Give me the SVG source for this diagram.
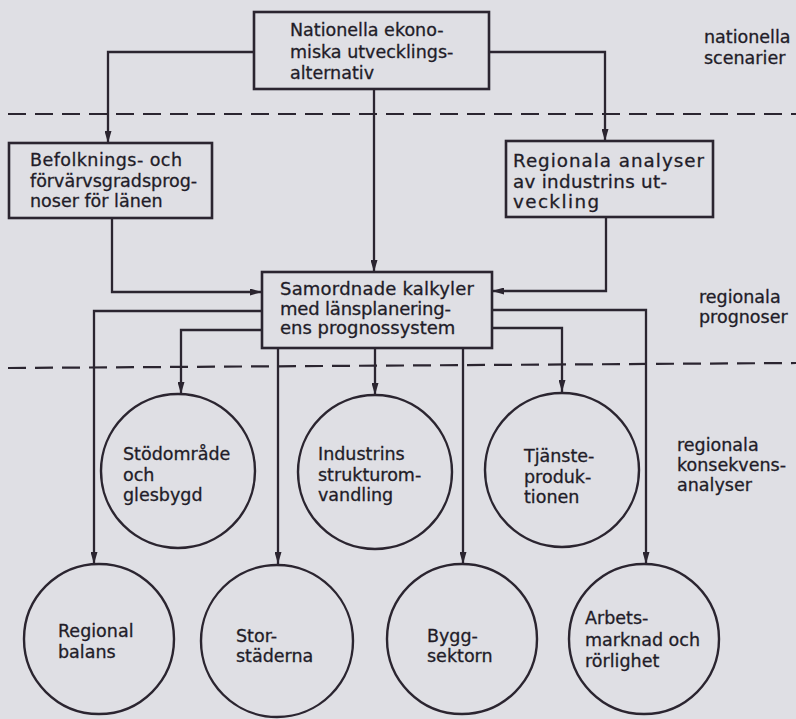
<svg xmlns="http://www.w3.org/2000/svg" width="796" height="719" viewBox="0 0 796 719">
  <defs>
    <marker id="arrow" viewBox="0 0 12 7" refX="12" refY="3.5" markerWidth="12" markerHeight="7" markerUnits="userSpaceOnUse" orient="auto">
      <path d="M0,0 L12,3.5 L0,7 z" fill="#2b2530"/>
    </marker>
    <style>
      .bg { fill: #dfdfe4; }
      .box { fill: none; stroke: #2b2530; stroke-width: 2.6; }
      .circle { fill: none; stroke: #2b2530; stroke-width: 2.4; }
      .wire { fill: none; stroke: #2b2530; stroke-width: 2.3; }
      .arrowed { marker-end: url(#arrow); }
      .dash { fill: none; stroke: #2b2530; stroke-width: 2.2; stroke-dasharray: 18 9; }
      text { font-family: "DejaVu Sans", "Liberation Sans", sans-serif; font-size: 17.5px; fill: #221c28; stroke: #221c28; stroke-width: 0.3; }
      .big text { font-size: 18px; }
      .wide text { font-size: 18.3px; }
    </style>
  </defs>

  <rect class="bg" x="0" y="0" width="796" height="719"/>

  <!-- level separators -->
  <g id="separators">
    <line class="dash" x1="8" y1="114" x2="796" y2="114"/>
    <line class="dash" x1="8" y1="368" x2="796" y2="363"/>
  </g>

  <!-- connectors -->
  <g id="connectors">
    <polyline class="wire arrowed" points="254,52 108,52 108,143"/>
    <polyline class="wire arrowed" points="489,52 605,52 605,141"/>
    <polyline class="wire arrowed" points="374,89 374,272"/>
    <polyline class="wire arrowed" points="112,218 112,292 262,292"/>
    <polyline class="wire arrowed" points="606,217 606,291 492,291"/>
    <polyline class="wire arrowed" points="262,311 94,311 94,564"/>
    <polyline class="wire arrowed" points="262,330 181,330 181,394"/>
    <polyline class="wire arrowed" points="278,348 278,564"/>
    <polyline class="wire arrowed" points="375,348 375,395"/>
    <polyline class="wire arrowed" points="463,348 463,564"/>
    <polyline class="wire arrowed" points="492,310 646,310 646,564"/>
    <polyline class="wire arrowed" points="492,328 562,328 562,392"/>
  </g>

  <g id="national">
    <rect class="box" x="254" y="12" width="235" height="77"/>
    <text x="290" y="36">Nationella ekono-</text>
    <text x="290" y="58">miska utvecklings-</text>
    <text x="290" y="79">alternativ</text>
  </g>

  <g id="label-national">
    <text x="704" y="43">nationella</text>
    <text x="704" y="64">scenarier</text>
  </g>

  <g id="population">
    <rect class="box" x="9" y="143" width="203" height="75"/>
    <text x="30" y="166" textLength="152" lengthAdjust="spacing">Befolknings- och</text>
    <text x="30" y="187">förvärvsgradsprog-</text>
    <text x="30" y="207">noser för länen</text>
  </g>

  <g id="industry-analysis" class="wide">
    <rect class="box" x="506" y="141" width="207" height="76"/>
    <text x="513" y="167" textLength="191" lengthAdjust="spacing">Regionala analyser</text>
    <text x="513" y="188" textLength="154" lengthAdjust="spacing">av industrins ut-</text>
    <text x="513" y="208" textLength="86" lengthAdjust="spacing">veckling</text>
  </g>

  <g id="coordinated" class="big">
    <rect class="box" x="262" y="272" width="230" height="76"/>
    <text x="280" y="295" textLength="194" lengthAdjust="spacing">Samordnade kalkyler</text>
    <text x="280" y="315" textLength="171" lengthAdjust="spacing">med länsplanering-</text>
    <text x="280" y="334">ens prognossystem</text>
  </g>

  <g id="label-regional">
    <text x="699" y="303">regionala</text>
    <text x="699" y="323">prognoser</text>
  </g>

  <g id="support-areas">
    <circle class="circle" cx="178" cy="471" r="77"/>
    <text x="123" y="460">Stödområde</text>
    <text x="123" y="481">och</text>
    <text x="123" y="501">glesbygd</text>
  </g>

  <g id="structural-change">
    <circle class="circle" cx="375" cy="472" r="77"/>
    <text x="318" y="460">Industrins</text>
    <text x="318" y="481">strukturom-</text>
    <text x="318" y="501">vandling</text>
  </g>

  <g id="services">
    <circle class="circle" cx="562" cy="470" r="77"/>
    <text x="524" y="462">Tjänste-</text>
    <text x="524" y="483">produk-</text>
    <text x="524" y="503">tionen</text>
  </g>

  <g id="label-consequences">
    <text x="677" y="451">regionala</text>
    <text x="677" y="471">konsekvens-</text>
    <text x="677" y="491">analyser</text>
  </g>

  <g id="regional-balance">
    <circle class="circle" cx="99" cy="639" r="75"/>
    <text x="58" y="637">Regional</text>
    <text x="58" y="658">balans</text>
  </g>

  <g id="metro">
    <circle class="circle" cx="277" cy="641" r="76"/>
    <text x="236" y="642">Stor-</text>
    <text x="236" y="662">städerna</text>
  </g>

  <g id="construction">
    <circle class="circle" cx="462" cy="639" r="75"/>
    <text x="427" y="642">Bygg-</text>
    <text x="427" y="662">sektorn</text>
  </g>

  <g id="labour-market">
    <circle class="circle" cx="644" cy="639" r="75"/>
    <text x="585" y="624">Arbets-</text>
    <text x="585" y="646">marknad och</text>
    <text x="585" y="667">rörlighet</text>
  </g>
</svg>
